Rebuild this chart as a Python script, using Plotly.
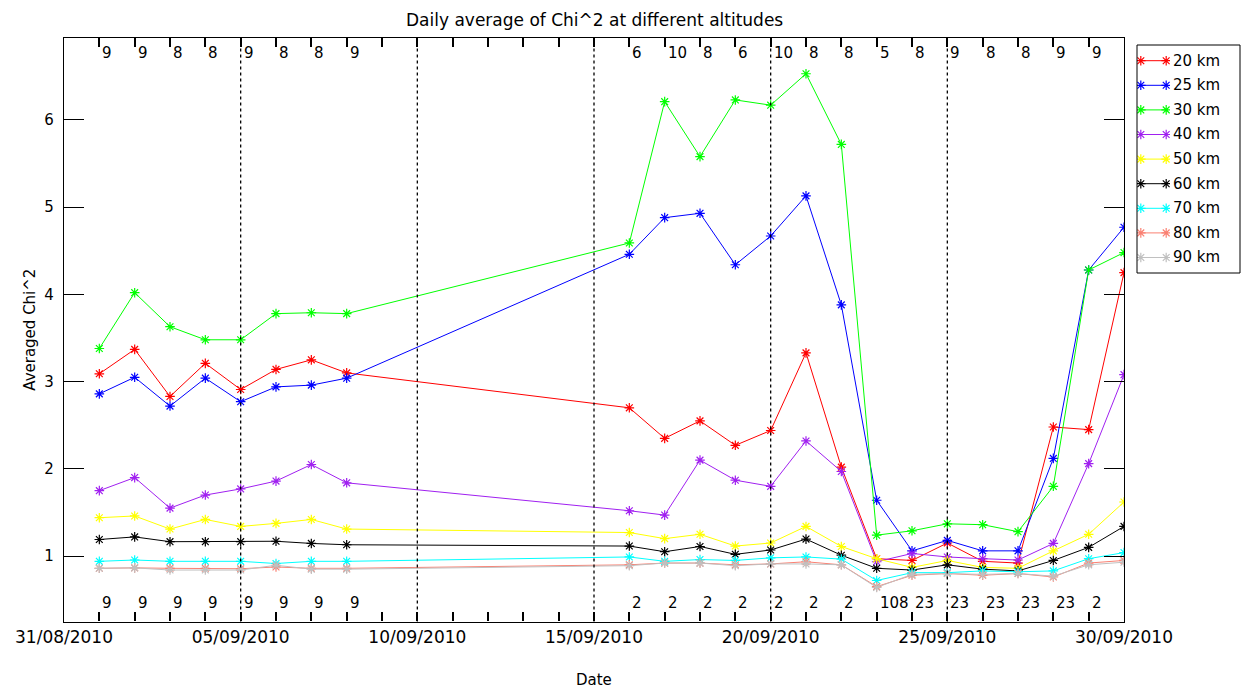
import pandas as pd
import plotly.graph_objects as go

# ---- data -------------------------------------------------------------
dates = [
    "2010-09-01", "2010-09-02", "2010-09-03", "2010-09-04", "2010-09-05",
    "2010-09-06", "2010-09-07", "2010-09-08",
    "2010-09-16", "2010-09-17", "2010-09-18", "2010-09-19", "2010-09-20",
    "2010-09-21", "2010-09-22", "2010-09-23", "2010-09-24", "2010-09-25",
    "2010-09-26", "2010-09-27", "2010-09-28", "2010-09-29", "2010-09-30",
]

chi_20km = [3.09, 3.37, 2.83, 3.21, 2.91, 3.14, 3.25, 3.10,
            2.70, 2.35, 2.55, 2.27, 2.44, 3.33, 2.02, 0.97, 0.95, 1.15,
            0.94, 0.92, 2.48, 2.45, 4.25]
chi_25km = [2.86, 3.05, 2.72, 3.04, 2.77, 2.94, 2.96, 3.04,
            4.46, 4.88, 4.93, 4.34, 4.67, 5.13, 3.88, 1.64, 1.06, 1.18,
            1.06, 1.06, 2.12, 4.28, 4.77]
chi_30km = [3.38, 4.02, 3.63, 3.48, 3.48, 3.78, 3.79, 3.78,
            4.59, 6.21, 5.58, 6.23, 6.17, 6.53, 5.72, 1.24, 1.29, 1.37,
            1.36, 1.28, 1.80, 4.28, 4.48]
chi_40km = [1.75, 1.90, 1.55, 1.70, 1.77, 1.86, 2.05, 1.84,
            1.52, 1.47, 2.10, 1.87, 1.80, 2.32, 1.97, 0.935, 1.03, 0.99,
            0.97, 0.955, 1.145, 2.06, 3.08]
chi_50km = [1.44, 1.46, 1.31, 1.42, 1.34, 1.375, 1.42, 1.31,
            1.27, 1.20, 1.25, 1.115, 1.15, 1.34, 1.11, 0.97, 0.87, 0.95,
            0.87, 0.86, 1.06, 1.25, 1.62]
chi_60km = [1.19, 1.22, 1.165, 1.165, 1.165, 1.17, 1.145, 1.13,
            1.115, 1.05, 1.11, 1.02, 1.07, 1.195, 1.01, 0.86, 0.84, 0.90,
            0.85, 0.83, 0.95, 1.10, 1.34]
chi_70km = [0.94, 0.955, 0.94, 0.94, 0.94, 0.915, 0.94, 0.94,
            0.99, 0.94, 0.96, 0.95, 0.98, 0.99, 0.965, 0.72, 0.81, 0.81,
            0.83, 0.82, 0.83, 0.97, 1.04]
chi_80km = [0.86, 0.865, 0.86, 0.86, 0.855, 0.875, 0.86, 0.86,
            0.90, 0.92, 0.92, 0.90, 0.91, 0.935, 0.90, 0.65, 0.78, 0.80,
            0.78, 0.80, 0.76, 0.92, 0.95]
chi_90km = [0.86, 0.865, 0.84, 0.84, 0.84, 0.895, 0.85, 0.85,
            0.89, 0.92, 0.92, 0.89, 0.91, 0.91, 0.90, 0.64, 0.79, 0.80,
            0.79, 0.80, 0.77, 0.90, 0.93]

altitude_names = ["20 km", "25 km", "30 km", "40 km", "50 km",
                  "60 km", "70 km", "80 km", "90 km"]

# profile counts written along the top and bottom of the frame
top_counts = [9, 9, 8, 8, 9, 8, 8, 9,
              6, 10, 8, 6, 10, 8, 8, 5, 8, 9, 8, 8, 9, 9, None]
bottom_counts = [9, 9, 9, 9, 9, 9, 9, 9,
                 2, 2, 2, 2, 2, 2, 2, 108, 23, 23, 23, 23, 23, 2, None]

date_ticks = ["2010-08-31", "2010-09-05", "2010-09-10", "2010-09-15",
              "2010-09-20", "2010-09-25", "2010-09-30"]
y_ticks = [1, 2, 3, 4, 5, 6]

# daily tick marks, labelled every fifth day
day_list = pd.date_range("2010-08-31", "2010-09-30", freq="D")
day_vals = [d.strftime("%Y-%m-%d") for d in day_list]
day_text = [d.strftime("%d/%m/%Y") if d.strftime("%Y-%m-%d") in date_ticks
            else "" for d in day_list]

# ---- styling ----------------------------------------------------------
series = [chi_20km, chi_25km, chi_30km, chi_40km, chi_50km,
          chi_60km, chi_70km, chi_80km, chi_90km]
colors = ["#ff0000", "#0000ff", "#00ff00", "#a020f0", "#ffff00",
          "#000000", "#00ffff", "#fa8072", "#c0c0c0"]

W, H = 1243, 690
PL, PR, PT, PB = 64, 1124, 38, 621.5  # frame edges in pixels
FONT = "DejaVu Sans"


def px_x(x):
    return x / W


def px_y(y):
    return (H - y) / H


fig = go.Figure()

for name, vals, col in zip(altitude_names, series, colors):
    fig.add_trace(go.Scatter(
        x=dates, y=vals, mode="lines+markers", name=name,
        line=dict(color=col, width=1),
        marker=dict(symbol="asterisk-open", size=8, color=col,
                    line=dict(color=col, width=1.2)),
        showlegend=False, xaxis="x", yaxis="y",
    ))

# legend: short line with an asterisk at each end, drawn on its own axes
n_alt = len(altitude_names)
for k, (name, col) in enumerate(zip(altitude_names, colors)):
    fig.add_trace(go.Scatter(
        x=[0, 1], y=[n_alt - 1 - k] * 2, mode="lines+markers",
        line=dict(color=col, width=1),
        marker=dict(symbol="asterisk-open", size=8, color=col,
                    line=dict(color=col, width=1.2)),
        showlegend=False, hoverinfo="skip", xaxis="x3", yaxis="y3",
    ))

annotations = []
for k, name in enumerate(altitude_names):
    annotations.append(dict(
        x=px_x(1171), xref="paper", y=n_alt - 1 - k, yref="y3",
        text=name, showarrow=False, xanchor="left", yanchor="middle",
        font=dict(family=FONT, size=15, color="black"),
    ))

for d, t, b in zip(dates, top_counts, bottom_counts):
    if t is not None:
        annotations.append(dict(
            x=d, xref="x", y=px_y(53), yref="paper", text=str(t),
            showarrow=False, xanchor="left", yanchor="middle", xshift=1,
            font=dict(family=FONT, size=15, color="black"),
        ))
    if b is not None:
        annotations.append(dict(
            x=d, xref="x", y=px_y(603), yref="paper", text=str(b),
            showarrow=False, xanchor="left", yanchor="middle", xshift=1,
            font=dict(family=FONT, size=15, color="black"),
        ))

annotations += [
    dict(x=px_x((PL + PR) / 2), y=px_y(20), xref="paper", yref="paper",
         text="Daily average of Chi^2 at different altitudes",
         showarrow=False, xanchor="center", yanchor="middle",
         font=dict(family=FONT, size=17, color="black")),
    dict(x=px_x((PL + PR) / 2), y=px_y(680), xref="paper", yref="paper",
         text="Date", showarrow=False, xanchor="center", yanchor="middle",
         font=dict(family=FONT, size=15, color="black")),
    dict(x=px_x(30), y=px_y((PT + PB) / 2), xref="paper", yref="paper",
         text="Averaged Chi^2", showarrow=False, textangle=-90,
         xanchor="center", yanchor="middle",
         font=dict(family=FONT, size=15, color="black")),
]

# dotted full-height lines at the labelled dates inside the frame
shapes = [dict(
    type="line", xref="x", yref="paper", x0=d, x1=d,
    y0=px_y(PB), y1=px_y(PT),
    line=dict(color="black", width=1.3, dash="dot"), layer="above",
) for d in date_ticks[1:-1]]

shapes.append(dict(
    type="rect", xref="paper", yref="paper",
    x0=px_x(1137), x1=px_x(1240), y0=px_y(273), y1=px_y(45),
    line=dict(color="black", width=1), fillcolor="rgba(0,0,0,0)",
))

fig.update_layout(
    width=W, height=H, template="none",
    margin=dict(l=0, r=0, t=0, b=0, autoexpand=False),
    paper_bgcolor="white", plot_bgcolor="white",
    font=dict(family=FONT, color="black"),
    showlegend=False,
    xaxis=dict(
        domain=[px_x(PL), px_x(PR)], type="date",
        range=["2010-08-31", "2010-09-30"],
        tickmode="array", tickvals=day_vals, ticktext=day_text,
        ticks="inside", ticklen=9, tickcolor="black", tickwidth=1.5,
        showgrid=False, zeroline=False,
        showline=True, linecolor="black", linewidth=1.2, mirror="allticks",
        tickfont=dict(family=FONT, size=17, color="black"),
        automargin=False,
    ),
    yaxis=dict(
        domain=[px_y(PB), px_y(PT)], range=[0.25, 6.94],
        tickmode="array", tickvals=y_ticks,
        ticks="inside", ticklen=20, tickcolor="black", tickwidth=1.2,
        showgrid=False, zeroline=False,
        showline=True, linecolor="black", linewidth=1.2, mirror="allticks",
        tickfont=dict(family=FONT, size=15, color="black"),
        ticklabelstandoff=6, automargin=False,
    ),
    xaxis3=dict(domain=[px_x(1137), px_x(1170)], range=[-0.15, 1.15],
                visible=False, fixedrange=True, anchor="y3"),
    yaxis3=dict(domain=[px_y(269.8), px_y(48.4)], range=[-0.5, 8.5],
                visible=False, fixedrange=True, anchor="x3"),
    annotations=annotations,
    shapes=shapes,
)

fig.write_html("out.html")
